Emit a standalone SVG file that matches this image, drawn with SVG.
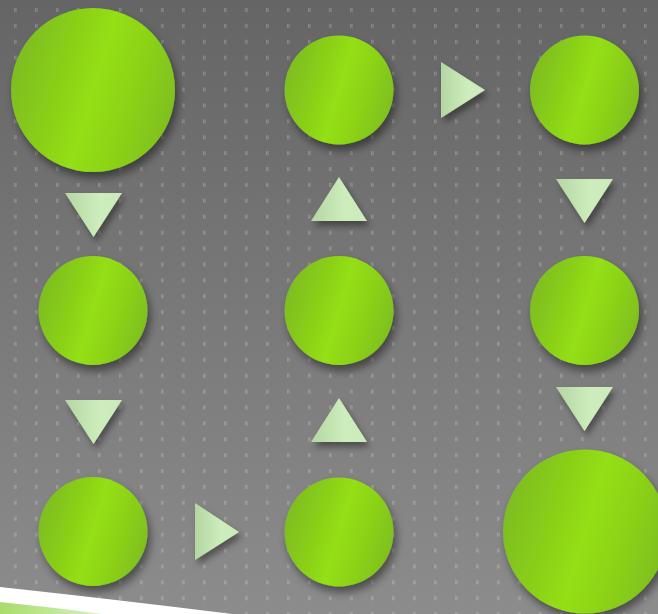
<svg xmlns="http://www.w3.org/2000/svg" width="658" height="614" viewBox="0 0 658 614">
<defs>
<linearGradient id="bg" x1="0" y1="0" x2="0" y2="1">
<stop offset="0" stop-color="#656565"/>
<stop offset="1" stop-color="#8c8c8c"/>
</linearGradient>
<pattern id="dots" x="0" y="0" width="21" height="15.9" patternUnits="userSpaceOnUse">
<rect x="14" y="8" width="3" height="4" fill="#ffffff" fill-opacity="0.14"/>
<rect x="14" y="8" width="1" height="4" fill="#ffffff" fill-opacity="0.08"/>
</pattern>
<linearGradient id="ball" x1="0" y1="0.35" x2="1" y2="0.65">
<stop offset="0" stop-color="#7dbc22"/>
<stop offset="0.3" stop-color="#8ad018"/>
<stop offset="0.5" stop-color="#94df13"/>
<stop offset="0.7" stop-color="#8dd416"/>
<stop offset="1" stop-color="#7ebf20"/>
</linearGradient>
<linearGradient id="tri" x1="0" y1="0" x2="1" y2="0">
<stop offset="0" stop-color="#b4d6a2"/>
<stop offset="0.6" stop-color="#cdeebc"/>
<stop offset="1" stop-color="#cbeab9"/>
</linearGradient>
<linearGradient id="swoosh" x1="0" y1="0" x2="1" y2="0">
<stop offset="0" stop-color="#a9dc6a"/>
<stop offset="1" stop-color="#d8f2bf"/>
</linearGradient>
<filter id="sh" x="-30%" y="-30%" width="160%" height="160%">
<feDropShadow dx="3" dy="6" stdDeviation="4" flood-color="#000" flood-opacity="0.45"/>
</filter>
<filter id="shs" x="-30%" y="-30%" width="170%" height="170%">
<feDropShadow dx="3" dy="5" stdDeviation="3" flood-color="#000" flood-opacity="0.4"/>
</filter>
</defs>
<style>
.ball{fill:url(#ball);filter:url(#sh)}
.arr{fill:url(#tri);filter:url(#shs)}
</style>
<rect width="658" height="614" fill="url(#bg)"/>
<rect width="658" height="614" fill="url(#dots)"/>
<g id="nodes">
<g id="n1"><circle class="ball" cx="93" cy="90" r="82"/></g>
<g id="n2"><circle class="ball" cx="339" cy="90" r="54.5"/></g>
<g id="n3"><circle class="ball" cx="584.5" cy="90" r="54.5"/></g>
<g id="n4"><circle class="ball" cx="93" cy="310.5" r="54.5"/></g>
<g id="n5"><circle class="ball" cx="339" cy="310.5" r="54.5"/></g>
<g id="n6"><circle class="ball" cx="584.5" cy="310.5" r="54.5"/></g>
<g id="n7"><circle class="ball" cx="93" cy="531.5" r="54.5"/></g>
<g id="n8"><circle class="ball" cx="339" cy="532" r="54.5"/></g>
<g id="n9"><circle class="ball" cx="585" cy="531.5" r="82"/></g>
</g>
<g id="connectors">
<polygon class="arr" points="65,193 122,193 93.5,237"/>
<polygon class="arr" points="65,400 122,400 93.5,444"/>
<polygon class="arr" points="311,221 367,221 339,177"/>
<polygon class="arr" points="311,442 367,442 339,398"/>
<polygon class="arr" points="441,62 441,118 485,90"/>
<polygon class="arr" points="556,179 613,179 584.5,223"/>
<polygon class="arr" points="556,387 613,387 584.5,431"/>
<polygon class="arr" points="195,503 195,560 239,532"/>
</g>
<g id="swoosh-shape">
<path d="M0,587 Q120,600 232,614 L0,614 Z" fill="#ffffff"/>
<path d="M0,602 Q50,607 102,614 L0,614 Z" fill="url(#swoosh)"/>
</g>
</svg>
